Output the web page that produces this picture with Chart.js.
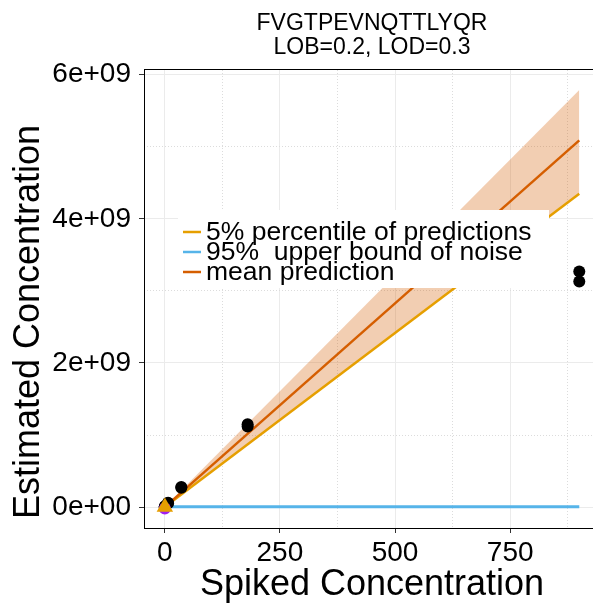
<!DOCTYPE html>
<html>
<head>
<meta charset="utf-8">
<script src="https://cdn.jsdelivr.net/npm/chart.js@4.4.1/dist/chart.umd.min.js"></script>
<style>
  html, body { margin: 0; padding: 0; background: #fff; overflow: hidden; }
  #wrap { width: 600px; height: 604px; }
</style>
</head>
<body>
<div id="wrap"><canvas id="chart" width="600" height="604"></canvas></div>
<script>
// --- data ---
const titleLines = ['FVGTPEVNQTTLYQR', 'LOB=0.2, LOD=0.3'];
const xTitle = 'Spiked Concentration';
const yTitle = 'Estimated Concentration';

const xMajor = [0, 250, 500, 750];
const xMinor = [125, 375, 625, 875];
const yMajor = [0, 2e9, 4e9, 6e9];
const yMinor = [1e9, 3e9, 5e9];

// fitted curves (straight lines through the origin)
const fitX = [0, 900];
const meanPred = [0, 5.09e9];
const pct5Pred = [0, 4.35e9];
const bandUpper = [0, 5.79e9];
const noiseX = [0, 900];
const noiseUpper = [0.004e9, 0.004e9];

// measured points
const spikedX = [0, 0, 0.288, 0.288, 1.44, 1.44, 7.2, 7.2, 36, 36, 180, 180, 900, 900];
const estimatedY = [0, 0.003e9, 0.004e9, 0.006e9, 0.012e9, 0.015e9, 0.06e9, 0.055e9,
                    0.28e9, 0.27e9, 1.15e9, 1.12e9, 3.27e9, 3.13e9];

const lobX = [0.2], lobY = [-0.02e9];
const lodX = [0.3], lodY = [0];

const legendLabels = ['5% percentile of predictions', '95%  upper bound of noise', 'mean prediction'];
const legendColors = ['#E69F00', '#56B4E9', '#D55E00'];

const FONT = '"Liberation Sans", Arial, Helvetica, sans-serif';

const toXY = (xs, ys) => xs.map((x, i) => ({ x, y: ys[i] }));

// 2e+09 style labels like R
function sci(v) {
    return v.toExponential(0).replace(/e([+-])(\d+)$/, (m, s, d) => 'e' + s + d.padStart(2, '0'));
}

const titlePlugin = {
    id: 'panelTitle',
    afterDraw(chart) {
        const { ctx, chartArea } = chart;
        const cx = (chartArea.left + chartArea.right) / 2;
        ctx.save();
        ctx.fillStyle = '#000';
        ctx.font = `23px ${FONT}`;
        ctx.textAlign = 'center';
        ctx.textBaseline = 'middle';
        ctx.fillText(titleLines[0], cx, 24);
        ctx.fillText(titleLines[1], cx, 48);
        // y axis title, drawn by hand so it can sit where the reference has it
        ctx.font = `36px ${FONT}`;
        ctx.translate(29, 322);
        ctx.rotate(-Math.PI / 2);
        ctx.fillText(yTitle, 0, 0);
        ctx.restore();
    },
};

// ggplot-style legend sitting inside the panel on a white box
const insideLegend = {
    id: 'insideLegend',
    afterDatasetsDraw(chart) {
        const { ctx } = chart;
        ctx.save();
        ctx.fillStyle = '#fff';
        ctx.fillRect(178, 210, 371, 78);
        ctx.font = `26.5px ${FONT}`;
        ctx.textBaseline = 'middle';
        legendLabels.forEach((lab, i) => {
            const y = 232 + i * 20;
            ctx.strokeStyle = legendColors[i];
            ctx.lineWidth = 2.5;
            ctx.beginPath();
            ctx.moveTo(183, y);
            ctx.lineTo(201, y);
            ctx.stroke();
            ctx.fillStyle = '#000';
            ctx.fillText(lab, 206, y + 1);
        });
        ctx.restore();
    },
};

const tickFont = { family: FONT, size: 28 };
const axisTitleFont = { family: FONT, size: 36 };

const noPad = s => { s.paddingLeft = 0; s.paddingRight = 0; s.paddingTop = 0; s.paddingBottom = 0; };

new Chart(document.getElementById('chart').getContext('2d'), {
    type: 'line',
    data: {
        datasets: [
            {
                label: 'band',
                data: toXY(fitX, bandUpper),
                borderWidth: 0,
                pointRadius: 0,
                backgroundColor: 'rgba(213,94,0,0.3)',
                fill: 1,
                order: 6,
            },
            {
                label: legendLabels[0],
                data: toXY(fitX, pct5Pred),
                borderColor: '#E69F00',
                borderWidth: 2.5,
                pointRadius: 0,
                fill: false,
                order: 5,
            },
            {
                label: legendLabels[1],
                data: toXY(noiseX, noiseUpper),
                borderColor: '#56B4E9',
                borderWidth: 3,
                pointRadius: 0,
                fill: false,
                order: 4,
            },
            {
                label: legendLabels[2],
                data: toXY(fitX, meanPred),
                borderColor: '#D55E00',
                borderWidth: 2.5,
                pointRadius: 0,
                fill: false,
                order: 3,
            },
            {
                label: 'measured',
                data: toXY(spikedX, estimatedY),
                showLine: false,
                pointRadius: 6,
                pointBackgroundColor: '#000',
                pointBorderWidth: 0,
                order: 2,
            },
            {
                label: 'LOB',
                data: toXY(lobX, lobY),
                showLine: false,
                pointRadius: 6,
                pointBackgroundColor: '#A020F0',
                pointBorderWidth: 0,
                order: 1,
            },
            {
                label: 'LOD',
                data: toXY(lodX, lodY),
                showLine: false,
                pointStyle: 'triangle',
                pointRadius: 9.5,
                pointBackgroundColor: '#E69F00',
                pointBorderWidth: 0,
                order: 0,
            },
        ],
    },
    options: {
        responsive: false,
        animation: false,
        events: [],
        layout: { autoPadding: false, padding: { top: 69, left: 0, right: 0, bottom: 0 } },
        plugins: {
            legend: { display: false },
            tooltip: { enabled: false },
        },
        scales: {
            x: {
                type: 'linear', position: 'bottom',
                min: -45, max: 945,
                afterBuildTicks: s => { s.ticks = xMajor.map(v => ({ value: v })); },
                afterFit: s => { s.height = 76; noPad(s); },
                grid: { color: '#ebebeb', lineWidth: 1, tickLength: 5, tickColor: '#333', tickWidth: 1 },
                border: { color: '#000', width: 1 },
                ticks: { color: '#000', font: tickFont, padding: 3, maxRotation: 0, autoSkip: false, callback: v => String(v) },
                title: { display: true, text: xTitle, color: '#000', font: axisTitleFont, padding: { bottom: -3 } },
            },
            xm: {
                type: 'linear', position: 'top',
                min: -45, max: 945,
                afterBuildTicks: s => { s.ticks = xMinor.map(v => ({ value: v })); },
                afterFit: s => { s.height = 0; noPad(s); },
                grid: { color: '#dcdcdc', lineWidth: 1, drawTicks: false },
                border: { display: true, color: '#000', width: 1, dash: [1, 2] },
                ticks: { display: false },
            },
            y: {
                type: 'linear', position: 'left',
                min: -0.29e9, max: 6.08e9,
                afterBuildTicks: s => { s.ticks = yMajor.map(v => ({ value: v })); },
                afterFit: s => { s.width = 144; noPad(s); },
                grid: { color: '#ebebeb', lineWidth: 1, tickLength: 5, tickColor: '#333', tickWidth: 1 },
                border: { color: '#000', width: 1 },
                ticks: { color: '#000', font: tickFont, padding: 8, autoSkip: false, callback: v => sci(v) },
            },
            ym: {
                type: 'linear', position: 'right',
                min: -0.29e9, max: 6.08e9,
                afterBuildTicks: s => { s.ticks = yMinor.map(v => ({ value: v })); },
                afterFit: s => { s.width = 0; noPad(s); },
                grid: { color: '#dcdcdc', lineWidth: 1, drawTicks: false },
                border: { display: true, color: '#000', width: 1, dash: [1, 2] },
                ticks: { display: false },
            },
        },
    },
    plugins: [insideLegend, titlePlugin],
});
</script>
</body>
</html>
